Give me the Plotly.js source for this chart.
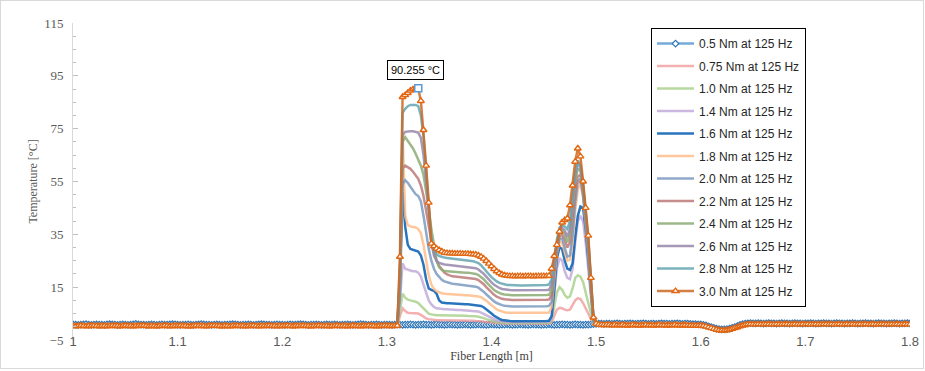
<!DOCTYPE html>
<html>
<head>
<meta charset="utf-8">
<script src="https://cdn.plot.ly/plotly-3.0.1.min.js"></script>
<style>
  html, body { margin: 0; padding: 0; background: #fff; }
  #chart { width: 925px; height: 371px; }
  #frame { position: absolute; left: 0; top: 0; width: 922px; height: 367px; border: 1px solid #d9d9d9; pointer-events: none; }
</style>
</head>
<body>
<div id="chart"></div>
<div id="frame"></div>
<script>
// ---------- DATA ----------
// Full-range series (0.5 Nm and 3.0 Nm): x from 1.0 to 1.8 m, step 0.0025 m
const xStart = 1.0;
const xStep = 0.0025;
// Middle series: x from 1.30 to 1.51 m, step 0.0025 m
const xMidStart = 1.3;

const seriesNames = ["0.5 Nm at 125 Hz","0.75 Nm at 125 Hz","1.0 Nm at 125 Hz","1.4 Nm at 125 Hz","1.6 Nm at 125 Hz","1.8 Nm at 125 Hz","2.0 Nm at 125 Hz","2.2 Nm at 125 Hz","2.4 Nm at 125 Hz","2.6 Nm at 125 Hz","2.8 Nm at 125 Hz","3.0 Nm at 125 Hz"];

// 3.0 Nm (temperature, °C)
const t30Pre = [0.3,0.2,0.3,0.4,0.3,0.2,0.3,0.3,0.4,0.3,0.2,0.3,0.3,0.2,0.3,0.4,0.3,0.3,0.2,0.3,
0.4,0.3,0.3,0.2,0.3,0.3,0.4,0.4,0.3,0.2,0.3,0.3,0.2,0.3,0.3,0.4,0.3,0.2,0.3,0.3,
0.3,0.4,0.3,0.3,0.2,0.2,0.3,0.4,0.3,0.3,0.3,0.2,0.3,0.4,0.4,0.3,0.3,0.2,0.3,0.3,
0.2,0.3,0.3,0.4,0.3,0.3,0.2,0.3,0.3,0.4,0.3,0.2,0.3,0.3,0.3,0.4,0.3,0.3,0.2,0.3,
0.3,0.3,0.4,0.3,0.2,0.3,0.3,0.3,0.4,0.3,0.3,0.2,0.3,0.3,0.4,0.3,0.3,0.3,0.2,0.3,
0.3,0.4,0.3,0.3,0.3,0.2,0.3,0.4,0.3,0.3,0.2,0.3,0.3,0.4,0.3,0.3,0.2,0.3,0.3,0.4];
const t30Mid = [0.3,0.3,0.3,0.3,0.4,26.5,87.0,87.7,88.5,89.4,89.9,90.1,90.255,85.5,74.5,61,47,31.5,30.5,29.6,
29.0,28.5,28.0,27.9,27.8,27.8,27.7,27.7,27.7,27.6,27.6,27.6,27.5,27.4,27.3,27.0,26.5,25.8,24.9,23.9,
22.9,21.9,21.0,20.3,19.8,19.5,19.3,19.2,19.2,19.1,19.2,19.2,19.1,19.2,19.2,19.2,19.1,19.2,19.2,19.2,
19.2,19.2,19.3,22.0,26.8,31.0,36.0,39.5,40.4,41.0,46.0,53.5,62.5,67.5,64.5,55.0,45.0,34.5,18.5,3.5,
1.2,0.8,0.7,0.7,0.7];
const t30Post = [0.7,0.6,0.7,0.6,0.6,0.7,0.6,0.5,0.6,0.7,0.6,0.6,0.5,0.6,0.7,0.6,0.6,0.5,0.6,0.7,0.6,0.6,0.5,0.6,0.6,0.7,0.6,0.5,0.6,0.6,0.5,0.5,0.4,0.4,0.4,0.4,
0.3,0.1,-0.2,-0.5,-0.8,-1.1,-1.3,-1.4,-1.4,-1.3,-1.1,-0.8,-0.5,-0.2,0.2,0.5,0.7,
0.9,1.0,0.9,0.9,1.0,0.9,0.9,1.0,1.0,0.9,0.9,1.0,0.9,0.9,1.0,1.0,0.9,0.9,1.0,0.9,
0.9,1.0,0.9,1.0,0.9,0.9,1.0,0.9,0.9,1.0,1.0,0.9,1.0,0.9,0.9,1.0,0.9,0.9,1.0,0.9,
1.0,0.9,0.9,1.0,0.9,1.0,0.9,0.9,1.0,0.9,0.9,1.0,1.0,0.9,0.9,1.0,0.9,1.0,0.9,0.9,
1.0,0.9,0.9];

// 0.5 Nm
const t05Pre = [0.9,0.8,0.7,0.8,0.9,1.0,0.8,0.7,0.8,0.9,0.8,0.8,0.7,0.9,1.0,0.9,0.8,0.7,0.8,0.9,
0.8,0.7,0.8,0.9,1.1,0.9,0.8,0.8,0.7,0.8,0.9,0.8,0.7,0.8,0.9,0.8,0.8,0.9,1.0,0.9,
0.8,0.7,0.8,0.8,0.9,0.8,0.7,0.8,0.9,1.0,0.9,0.8,0.8,0.7,0.8,0.9,0.8,0.7,0.8,0.8,
0.9,1.0,0.9,0.8,0.7,0.8,0.8,0.9,0.8,0.7,0.8,0.9,1.0,0.9,0.8,0.8,0.7,0.8,0.9,0.8,
0.8,0.7,0.8,0.9,0.8,0.8,0.9,1.0,0.9,0.8,0.7,0.8,0.8,0.9,0.8,0.7,0.8,0.9,0.8,0.8,
0.9,0.8,0.7,0.8,0.8,0.9,0.8,0.7,0.8,0.9,1.0,0.9,0.8,0.7,0.8,0.8,0.9,0.8,0.7,0.8];
const t05Mid = [0.8,0.8,0.7,0.8,0.9,0.8,0.7,0.8,0.8,0.9,0.8,0.7,0.8,0.8,0.9,0.8,0.8,0.7,0.8,0.9,
0.8,0.8,0.7,0.8,0.9,0.8,0.8,0.7,0.8,0.8,0.9,0.8,0.7,0.8,0.8,0.9,0.8,0.8,0.7,0.8,
0.9,0.8,0.8,0.7,0.8,0.8,0.9,0.8,0.7,0.8,0.8,0.9,0.8,0.8,0.7,0.8,0.9,0.8,0.8,0.7,
0.8,0.8,0.9,0.8,0.7,0.8,0.8,0.9,0.8,0.8,0.7,0.8,0.9,0.8,0.8,0.7,0.8,0.8,0.9,1.0,
1.1,1.2,1.2,1.1,1.2];
const t05Post = [1.2,1.1,1.2,1.3,1.2,1.1,1.2,1.2,1.3,1.2,1.1,1.2,1.2,1.3,1.2,1.1,1.2,1.2,1.1,1.2,1.3,1.2,1.2,1.1,1.2,1.2,1.3,1.2,1.1,1.2,1.2,1.1,1.0,1.0,0.9,0.9,
0.7,0.5,0.2,-0.1,-0.4,-0.7,-0.9,-1.0,-1.0,-0.9,-0.7,-0.4,-0.1,0.3,0.7,1.0,1.2,
1.3,1.4,1.3,1.3,1.4,1.3,1.2,1.3,1.4,1.3,1.3,1.2,1.3,1.4,1.3,1.3,1.2,1.3,1.4,1.3,
1.3,1.2,1.3,1.3,1.4,1.3,1.2,1.3,1.3,1.4,1.3,1.3,1.2,1.3,1.4,1.3,1.3,1.2,1.3,1.3,
1.4,1.3,1.2,1.3,1.3,1.4,1.3,1.3,1.2,1.3,1.4,1.3,1.3,1.2,1.3,1.3,1.4,1.3,1.2,1.3,
1.3,1.4,1.3];

// Middle series, 1.30 .. 1.51 m
const t075 = [0.4,0.4,0.4,0.5,0.6,4,7,6,5.3,5.2,5.1,5.0,5.0,4.5,3.8,3.2,2.9,2.7,2.6,2.5,2.5,
2.5,2.5,2.5,2.4,2.4,2.4,2.4,2.4,2.3,2.3,2.3,2.3,
2.3,2.2,2.2,2.1,1.9,1.8,1.6,1.5,1.4,1.3,1.3,1.2,1.2,1.2,
1.2,1.1,1.1,1.1,1.1,1.1,1.1,1.1,1.1,1.1,1.1,1.1,1.1,1.1,1.2,1.2,
1.8,4,6.5,7.2,7,6.5,6.3,6.5,8,10,10.8,10.5,9,7,5,3,1,0.8,0.7,0.7,0.7,0.7];
const t10 = [0.4,0.4,0.4,0.5,0.6,6,12.5,11,10.3,10,9.8,9.5,9,8,6.8,5.8,5,4.7,4.5,4.4,4.4,
4.4,4.4,4.3,4.3,4.3,4.3,4.2,4.2,4.2,4.2,4.1,4.1,
4.1,4.0,3.8,3.6,3.3,2.9,2.6,2.3,2.0,1.8,1.7,1.6,1.5,1.5,
1.5,1.4,1.4,1.4,1.4,1.4,1.4,1.4,1.4,1.4,1.4,1.4,1.4,1.4,1.5,1.5,
2.5,8,13,15,14,12,11,11.5,14.5,18.5,19.5,19,17,13,9,5,1.2,0.8,0.7,0.7,0.7,0.7];
const t14 = [0.4,0.4,0.4,0.5,0.6,10,24,22,21.5,21.3,21,21,20.5,19,16,12.5,10,8.5,7.5,7,6.8,
6.7,6.6,6.6,6.5,6.5,6.4,6.4,6.4,6.3,6.3,6.2,6.2,
6.1,6.0,5.8,5.4,4.9,4.3,3.7,3.2,2.8,2.4,2.2,2.0,1.9,1.8,
1.8,1.7,1.7,1.7,1.7,1.7,1.7,1.7,1.7,1.7,1.7,1.7,1.7,1.8,1.8,1.9,
3,12,22,26,25,21,18.5,18,22,32,40,42,40,32,22,10,1.5,0.8,0.7,0.7,0.7,0.7];
const t16 = [0.4,0.4,0.5,0.6,0.6,20,51,38,31,29.5,29.2,29,28.5,27,23.5,18,14.5,14,13.6,12.5,10,
9.2,9.0,8.9,8.9,8.8,8.8,8.7,8.7,8.6,8.5,8.5,8.4,
8.4,8.3,8.2,7.9,7.4,6.7,5.9,5.0,4.2,3.5,3.0,2.6,2.4,2.2,
2.2,2.1,2.1,2.1,2.0,2.0,2.0,2.0,2.0,2.0,2.0,2.0,2.1,2.1,2.2,2.3,
4,14,26,30,29.5,25,22,21.5,24,34,42,45.5,45,37,26,12,2,0.8,0.7,0.7,0.7,0.7];
const t18 = [0.4,0.4,0.4,0.5,0.6,25,73,42,38.5,38,37.8,37.6,37,35.5,31,25,19.5,16,14.3,13.5,13,
12.7,12.5,12.4,12.3,12.2,12.2,12.1,12.0,12.0,11.9,11.9,11.8,
11.8,11.7,11.5,11.2,10.6,9.9,9.0,8.1,7.3,6.6,6.1,5.7,5.5,5.3,
5.3,5.2,5.2,5.2,5.1,5.1,5.1,5.1,5.1,5.1,5.1,5.1,5.2,5.2,5.3,5.4,
7.5,18,28,32,32,28,25,25.5,32,44,52,54,49,39,28,13,2,1,0.7,0.7,0.7,0.7];
const t20 = [0.4,0.4,0.4,0.5,0.6,12,54,55.5,54.5,53,51.5,50.2,49.5,47.5,42,35.5,29.5,25,22,20,18.8,
17.8,17.2,16.8,16.5,16.3,16.2,16.1,16.0,15.9,15.8,15.7,15.6,
15.4,15.2,14.8,14.2,13.3,12.3,11.3,10.4,9.6,9.0,8.5,8.2,8.0,7.8,
7.8,7.7,7.7,7.7,7.6,7.6,7.6,7.6,7.6,7.6,7.6,7.6,7.7,7.7,7.8,7.9,
9.5,20,29,33,33.5,30,26.5,27,35,47,55,56,50,40,29,14,2,1,0.7,0.7,0.7,0.7];
const t22 = [0.4,0.4,0.4,0.5,0.6,14,60,61,60.5,59.8,58.7,57.5,56,53.5,49.5,44,38,32.5,28,25,23,
21.5,20.5,19.8,19.3,19.1,19.0,18.9,18.8,18.7,18.7,18.6,18.5,
18.3,18.1,17.7,17.0,16.1,15.0,13.9,12.9,12.1,11.4,10.9,10.6,10.4,10.2,
10.2,10.1,10.1,10.1,10.0,10.0,10.0,10.0,10.0,10.0,10.0,10.0,10.1,10.1,10.2,10.3,
12,22,30,34,35,33,30,32,41,51,57,57.5,51,41,30,15,2.5,1,0.7,0.7,0.7,0.7];
const t24 = [0.4,0.4,0.4,0.5,0.6,16,70,71.8,70.5,69,67.5,65.5,63.5,61,57.5,52,45,37,30,25,22.5,
21.5,21.1,21.0,20.9,20.8,20.8,20.7,20.7,20.6,20.5,20.5,20.4,
20.2,20.0,19.6,18.9,18.0,16.9,15.8,14.8,13.9,13.3,12.8,12.4,12.2,12.0,
12.0,11.9,11.9,11.9,11.8,11.8,11.8,11.8,11.8,11.8,11.8,11.8,11.9,11.9,12.0,12.1,
14,24,31,35.5,36.5,35,32,35,45,55,60,59,52,42,31,16,2.5,1,0.7,0.7,0.7,0.7];
const t26 = [0.4,0.4,0.4,0.5,0.6,18,72.5,73.8,74,74,74,73.8,73.5,71.5,65,55,43,32,27,25,24.2,
23.8,23.6,23.5,23.4,23.3,23.2,23.1,23.0,22.9,22.8,22.7,22.6,
22.4,22.2,21.7,21.0,20.1,19.0,17.8,16.8,15.9,15.2,14.7,14.3,14.1,13.9,
13.9,13.8,13.8,13.8,13.7,13.7,13.7,13.7,13.7,13.7,13.7,13.7,13.8,13.8,13.9,14.0,
16,25,32,36.5,37.5,36.5,34,37,47,57,62,60.5,53,43,32,17,3,1,0.7,0.7,0.7,0.7];
const t28 = [0.4,0.4,0.4,0.5,0.6,20,81,82.5,83.5,84,84,84,83.5,80,72,60,46,33,29,27.5,26.8,
26.4,26.2,26.0,25.9,25.8,25.7,25.6,25.5,25.4,25.3,25.2,25.0,
24.8,24.5,24.1,23.3,22.3,21.1,19.9,18.8,17.9,17.2,16.6,16.3,16.0,15.8,
15.8,15.7,15.7,15.7,15.6,15.6,15.6,15.6,15.6,15.6,15.6,15.6,15.7,15.7,15.8,16.0,
18,26,33,37.5,38.5,38,37,40,50,59,63,61,54,44,33,18,3,1,0.7,0.7,0.7,0.7];

const t30 = t30Pre.concat(t30Mid, t30Post);
const t05 = t05Pre.concat(t05Mid, t05Post);

const yTickStart = -5, yTickStep = 20, yMin = -5, yMax = 115;
const xMin = 1.0, xMax = 1.8, xTickStep = 0.1;

// ---------- STYLE ----------
const midSeries = [t075, t10, t14, t16, t18, t20, t22, t24, t26, t28];
const midColors = [
  'rgba(240,150,150,0.75)',
  'rgba(165,208,135,0.8)',
  'rgba(190,165,215,0.8)',
  'rgba(30,110,185,0.95)',
  'rgba(255,185,130,0.8)',
  'rgba(115,148,188,0.8)',
  'rgba(185,112,112,0.8)',
  'rgba(140,172,115,0.85)',
  'rgba(150,135,172,0.85)',
  'rgba(100,165,178,0.85)'
];

const traces = [];
traces.push({
  type: 'scatter', mode: 'lines+markers', name: seriesNames[0], legendgroup: 'g0',
  x0: xStart, dx: xStep, y: t05,
  line: {color: 'rgba(91,155,213,0.85)', width: 2.5},
  marker: {symbol: 'diamond', size: 5, color: '#ffffff', line: {color: '#2E75B6', width: 1.2}}
});
midSeries.forEach((s, i) => {
  traces.push({
    type: 'scatter', mode: 'lines', name: seriesNames[i + 1], legendgroup: 'g' + (i + 1),
    x0: xMidStart, dx: xStep, y: s,
    line: {color: midColors[i], width: 2.5}
  });
});
traces.push({
  type: 'scatter', mode: 'lines+markers', name: seriesNames[11], legendgroup: 'g11',
  x0: xStart, dx: xStep, y: t30,
  line: {color: 'rgba(205,105,35,0.85)', width: 2.5},
  marker: {symbol: 'triangle-up', size: 6, color: '#ffffff', line: {color: '#E2650F', width: 1.4}}
});

// peak of the 3.0 Nm series (from the data)
const yPeak = Math.max(...t30);
const peakIdx = t30.indexOf(yPeak);
const xPeak = xStart + peakIdx * xStep;
traces.push({
  type: 'scatter', mode: 'markers', x: [xPeak], y: [yPeak], showlegend: false, hoverinfo: 'skip',
  marker: {symbol: 'square', size: 7, color: '#ffffff', line: {color: '#5B9BD5', width: 1.5}}
});

const layout = {
  width: 925, height: 371,
  margin: {l: 73, r: 15, t: 23, b: 31, pad: 0},
  paper_bgcolor: '#ffffff', plot_bgcolor: '#ffffff',
  showlegend: true,
  legend: {
    x: 0.6906, y: 0.984, xanchor: 'left', yanchor: 'top',
    bordercolor: '#000000', borderwidth: 1, bgcolor: '#ffffff',
    font: {family: 'Liberation Sans, Arial, sans-serif', size: 12, color: '#262626'},
    traceorder: 'grouped', tracegroupgap: 3.5, itemwidth: 37
  },
  xaxis: {
    range: [xMin, xMax], tick0: xMin, dtick: xTickStep,
    showgrid: false, zeroline: false, showline: false, ticks: '',
    tickfont: {family: 'Liberation Sans, Arial, sans-serif', size: 13, color: '#595959'},
    ticklabelstandoff: -8,
    title: {text: 'Fiber Length [m]', font: {family: 'Liberation Serif, Times New Roman, serif', size: 12, color: '#404040'}, standoff: 2},
    automargin: false
  },
  yaxis: {
    range: [yMin, yMax], tick0: yTickStart, dtick: yTickStep,
    showgrid: false, zeroline: true, zerolinecolor: '#d9d9d9', zerolinewidth: 1,
    showline: true, linecolor: '#d9d9d9', linewidth: 1,
    ticks: 'inside', ticklen: 5, tickcolor: '#bfbfbf',
    minor: {tick0: yTickStart, dtick: 5, ticks: 'inside', ticklen: 3, tickcolor: '#bfbfbf'},
    tickfont: {family: 'Liberation Serif, Times New Roman, serif', size: 13, color: '#595959'},
    ticklabelstandoff: 6,
    title: {text: 'Temperature [°C]', font: {family: 'Liberation Serif, Times New Roman, serif', size: 12, color: '#595959'}, standoff: 4},
    automargin: false
  },
  annotations: [{
    x: xPeak, y: yPeak, xref: 'x', yref: 'y',
    text: yPeak.toFixed(3) + ' °C',
    showarrow: true, arrowcolor: 'rgba(0,0,0,0)', ax: -3, ay: -18,
    bgcolor: '#ffffff', bordercolor: '#000000', borderwidth: 1, borderpad: 3,
    font: {family: 'Liberation Sans, Arial, sans-serif', size: 11, color: '#000000'}
  }],
  hovermode: false
};

Plotly.newPlot('chart', traces, layout, {staticPlot: true, displayModeBar: false});
</script>
</body>
</html>
